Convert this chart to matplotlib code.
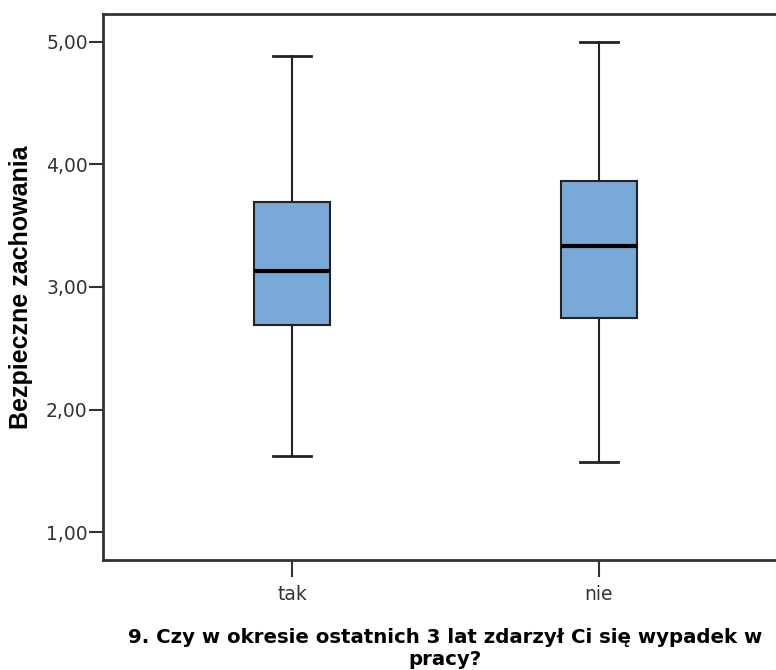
import matplotlib.pyplot as plt

# Box statistics
groups = ["tak", "nie"]
whisker_low = [1.62, 1.57]
q1 = [2.69, 2.75]
median = [3.13, 3.33]
q3 = [3.69, 3.86]
whisker_high = [4.88, 5.00]

yticks = [1.0, 2.0, 3.0, 4.0, 5.0]
ytick_labels = ["1,00", "2,00", "3,00", "4,00", "5,00"]

stats = []
for i, g in enumerate(groups):
    stats.append({
        "label": g,
        "whislo": whisker_low[i],
        "q1": q1[i],
        "med": median[i],
        "q3": q3[i],
        "whishi": whisker_high[i],
        "fliers": [],
    })

fig = plt.figure(figsize=(7.76, 6.70), dpi=100)
ax = fig.add_axes([0.1327, 0.1642, 0.8827, 0.8149])

edge = "#222222"
ax.bxp(stats, positions=[1, 2], widths=0.248, patch_artist=True,
       showfliers=False,
       boxprops=dict(facecolor="#79a9d6", edgecolor=edge, linewidth=1.5),
       medianprops=dict(color="black", linewidth=3),
       whiskerprops=dict(color=edge, linewidth=1.5),
       capprops=dict(color=edge, linewidth=2),
       capwidths=0.124)

ax.set_xlim(0.384, 2.616)
ax.set_ylim(0.774, 5.225)
ax.set_yticks(yticks)
ax.set_yticklabels(ytick_labels)
ax.set_xticks([1, 2])
ax.set_xticklabels(groups)

for s in ax.spines.values():
    s.set_color("#333333")
    s.set_linewidth(2)
ax.tick_params(axis="both", colors="#333333", labelcolor="#333333",
               labelsize=13.5, width=1.5)
ax.tick_params(axis="y", length=10, pad=1)
ax.tick_params(axis="x", length=12, pad=6)
for lab in ax.get_xticklabels() + ax.get_yticklabels():
    lab.set_family("DejaVu Sans")

ax.set_ylabel("Bezpieczne zachowania", family="Liberation Sans",
              fontweight="bold", fontsize=18, labelpad=9)
ax.set_xlabel("9. Czy w okresie ostatnich 3 lat zdarzył Ci się wypadek w\npracy?",
              family="DejaVu Sans", fontweight="bold", fontsize=14.2,
              linespacing=1.2, labelpad=17)

fig.savefig("out.png", dpi=100)
